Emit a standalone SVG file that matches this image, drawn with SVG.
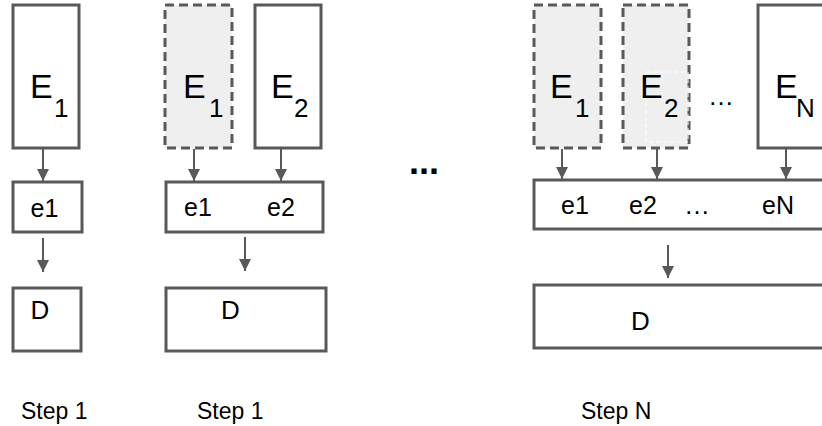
<svg xmlns="http://www.w3.org/2000/svg" width="822" height="426" viewBox="0 0 822 426">
<defs>
<style>
.box{fill:#ffffff;stroke:#595959;stroke-width:3}
.dash{fill:#efefef;stroke:#595959;stroke-width:3;stroke-dasharray:9 5}
.t{font-family:"Liberation Sans",Arial,sans-serif;fill:#000}
.big{font-size:34px}
.sub{font-size:26px}
.lab{font-size:25px}
.dl{font-size:26px}
.step{font-size:23px}
.con{stroke:#595959;stroke-width:2;fill:none}
</style>
<marker id="ah" viewBox="0 0 10 10" refX="10" refY="5" markerWidth="12" markerHeight="12" markerUnits="userSpaceOnUse" orient="auto">
<path d="M0,0 L10,5 L0,10 Z" fill="#595959"/>
</marker>
</defs>
<rect width="822" height="426" fill="#ffffff"/>

<g id="connectors">
<line class="con" x1="43" y1="149" x2="43" y2="181" marker-end="url(#ah)"/>
<line class="con" x1="43" y1="238" x2="43" y2="272" marker-end="url(#ah)"/>
<line class="con" x1="194" y1="149" x2="194" y2="181" marker-end="url(#ah)"/>
<line class="con" x1="281" y1="149" x2="281" y2="181" marker-end="url(#ah)"/>
<line class="con" x1="245" y1="237" x2="245" y2="271" marker-end="url(#ah)"/>
<line class="con" x1="562" y1="149" x2="562" y2="179" marker-end="url(#ah)"/>
<line class="con" x1="657" y1="149" x2="657" y2="179" marker-end="url(#ah)"/>
<line class="con" x1="786" y1="149" x2="786" y2="179" marker-end="url(#ah)"/>
<line class="con" x1="668" y1="245" x2="668" y2="278" marker-end="url(#ah)"/>
</g>

<!-- Step 1 (first) -->
<g id="s1-E1">
<rect class="box" x="13" y="5" width="66" height="143"/>
<text class="t big" x="30" y="97.5">E</text>
<text class="t sub" x="54" y="116.5">1</text>
</g>
<g id="s1-e">
<rect class="box" x="13" y="182" width="69" height="50"/>
<text class="t lab" x="30.5" y="216.5">e1</text>
</g>
<g id="s1-D">
<rect class="box" x="13" y="288" width="68" height="63"/>
<text class="t dl" x="30.5" y="319">D</text>
</g>
<text id="s1-label" class="t step" x="21" y="419">Step 1</text>

<!-- Step 1 (second) -->
<g id="s2-E1">
<rect class="dash" x="165" y="5" width="67" height="143"/>
<text class="t big" x="183" y="97.5">E</text>
<text class="t sub" x="209" y="116.5">1</text>
</g>
<g id="s2-E2">
<rect class="box" x="255" y="5" width="66" height="143"/>
<text class="t big" x="271" y="97.5">E</text>
<text class="t sub" x="294" y="116.5">2</text>
</g>
<g id="s2-e">
<rect class="box" x="166" y="182" width="157" height="50"/>
<text class="t lab" x="184" y="216">e1</text>
<text class="t lab" x="267" y="216">e2</text>
</g>
<g id="s2-D">
<rect class="box" x="166" y="288" width="160" height="63"/>
<text class="t dl" x="221" y="319">D</text>
</g>
<text id="s2-label" class="t step" x="197" y="419">Step 1</text>

<text id="gap-dots" class="t" x="409" y="174" font-size="36" font-weight="bold">...</text>

<!-- Step N -->
<g id="sN-E1">
<rect class="dash" x="534" y="5" width="67" height="143"/>
<text class="t big" x="550" y="97.5">E</text>
<text class="t sub" x="575" y="116.5">1</text>
</g>
<g id="sN-E2">
<rect class="dash" x="623" y="5" width="66" height="143"/>
<rect x="646" y="72" width="42" height="70" fill="none" stroke="#ffffff" stroke-width="1" stroke-dasharray="4 3"/>
<text class="t big" x="640" y="97.5">E</text>
<text class="t sub" x="664" y="116.5">2</text>
</g>
<text id="sN-dots" class="t dl" x="708" y="105">…</text>
<g id="sN-EN">
<rect class="box" x="758" y="5" width="72" height="143"/>
<text class="t big" x="775" y="97.5">E</text>
<text class="t sub" x="796" y="116.5">N</text>
</g>
<g id="sN-e">
<rect class="box" x="534" y="180" width="300" height="49"/>
<text class="t lab" x="561" y="214">e1</text>
<text class="t lab" x="629" y="214">e2</text>
<text class="t dl" x="684" y="214">…</text>
<text class="t lab" x="762" y="214">eN</text>
</g>
<g id="sN-D">
<rect class="box" x="534" y="285" width="300" height="63"/>
<text class="t dl" x="631" y="330">D</text>
</g>
<text id="sN-label" class="t step" x="581" y="419">Step N</text>
</svg>
